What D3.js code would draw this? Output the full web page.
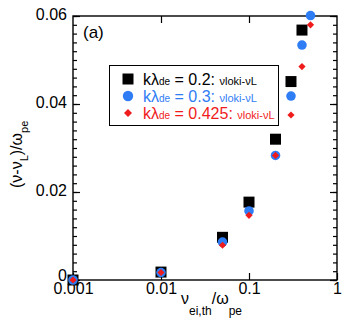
<!DOCTYPE html>
<html>
<head>
<meta charset="utf-8">
<script src="https://cdn.jsdelivr.net/npm/d3@7"></script>
<style>
  body { margin: 0; background: #fff; }
  svg { display: block; font-family: Arial, "Liberation Sans", Helvetica, sans-serif; }
</style>
</head>
<body>
<div id="chart"></div>
<script>
"use strict";

// collision frequency / omega_pe
const nuValues = [0.001, 0.01, 0.05, 0.1, 0.2, 0.3, 0.4, 0.5];

// (nu - nu_L) / omega_pe for each k lambda_de
const shift02 = [0, 0.0018, 0.0097, 0.0177, 0.0320, 0.0451, 0.0568];
const shift03 = [0, 0.0017, 0.0086, 0.0157, 0.0283, 0.0418, 0.0534, 0.0601];
const shift0425 = [0, 0.0017, 0.0079, 0.0147, 0.0283, 0.0375, 0.0485, 0.0580];

const xTicks = [0.001, 0.01, 0.1, 1];
const yTicks = [0, 0.02, 0.04, 0.06];
const legendValues = ['0.2', '0.3', '0.425'];

const width = 346, height = 325;
const plotLeft = 73, plotRight = 337, plotTop = 16, plotBottom = 280;

let svg = d3.select('#chart')
  .append('svg')
  .attr('width', width)
  .attr('height', height);

let x = d3.scaleLog().domain([0.001, 1]).range([plotLeft, plotRight]);
let y = d3.scaleLinear().domain([0, 0.06]).range([plotBottom, plotTop]);

function styleAxis(g)
{
  g.select('.domain').remove();
  g.selectAll('line').attr('stroke', '#000').attr('stroke-width', 1.2);
  g.selectAll('text')
    .attr('fill', '#000')
    .style('font-size', '16px')
    .style('font-family', 'Arial, "Liberation Sans", sans-serif');
}

// minor y ticks, both sides
let minor = d3.range(0, 0.0601, 0.002);
svg.append('g')
  .attr('transform', `translate(${plotLeft},0)`)
  .call(d3.axisLeft(y).tickValues(minor).tickSizeInner(-4).tickSizeOuter(0).tickFormat(''))
  .call(styleAxis);
svg.append('g')
  .attr('transform', `translate(${plotRight},0)`)
  .call(d3.axisRight(y).tickValues(minor).tickSizeInner(-4).tickSizeOuter(0).tickFormat(''))
  .call(styleAxis);

// major y ticks
svg.append('g')
  .attr('transform', `translate(${plotLeft},0)`)
  .call(d3.axisLeft(y).tickValues(yTicks).tickSizeInner(-7).tickSizeOuter(0).tickPadding(6)
    .tickFormat(d => d === 0 ? '0' : d3.format('.2f')(d)))
  .call(styleAxis)
  .call(g => g.selectAll('text').attr('dy', d => d === 0 ? '0.02em' : '0.2em'));
svg.append('g')
  .attr('transform', `translate(${plotRight},0)`)
  .call(d3.axisRight(y).tickValues(yTicks).tickSizeInner(-7).tickSizeOuter(0).tickFormat(''))
  .call(styleAxis);

// x ticks
svg.append('g')
  .attr('transform', `translate(0,${plotBottom})`)
  .call(d3.axisBottom(x).tickValues(xTicks).tickSizeInner(-7).tickSizeOuter(0).tickPadding(3)
    .tickFormat(d => String(d)))
  .call(styleAxis);
svg.append('g')
  .attr('transform', `translate(0,${plotTop})`)
  .call(d3.axisTop(x).tickValues(xTicks.slice(1, 3)).tickSizeInner(-7).tickSizeOuter(0).tickFormat(''))
  .call(styleAxis);

// frame
svg.append('rect')
  .attr('x', plotLeft)
  .attr('y', plotTop)
  .attr('width', plotRight - plotLeft)
  .attr('height', plotBottom - plotTop)
  .attr('fill', 'none')
  .attr('stroke', '#000')
  .attr('stroke-width', 1.4);

// panel tag
svg.append('text')
  .attr('x', 83)
  .attr('y', 38)
  .style('font-size', '17px')
  .text('(a)');

// axis titles
let yTitle = svg.append('text')
  .attr('transform', 'translate(22,188) rotate(-90)')
  .style('font-size', '16px');
yTitle.append('tspan').text('(ν-ν');
yTitle.append('tspan').attr('dy', 6).style('font-size', '11px').text('L');
yTitle.append('tspan').attr('dy', -6).text(')/ω');
yTitle.append('tspan').attr('dy', 6).style('font-size', '11px').text('pe');

let xTitle = svg.append('text')
  .attr('x', 181)
  .attr('y', 304)
  .style('font-size', '16px');
xTitle.append('tspan').text('ν');
xTitle.append('tspan').attr('dy', 11).style('font-size', '12px').text('ei,th');
xTitle.append('tspan').attr('dy', -11).text('/ω');
xTitle.append('tspan').attr('dy', 11).style('font-size', '12px').text('pe');

// markers
const blue = '#2f7df5', red = '#f01c1c';
let symSquare = d3.symbol().type(d3.symbolSquare).size(121);
let symCircle = d3.symbol().type(d3.symbolCircle).size(72);
let symDiamond = d3.symbol().type(d3.symbolSquare).size(26);

function drawSeries(values, sym, color, rot)
{
  svg.append('g')
    .selectAll('path')
    .data(values)
    .enter()
    .append('path')
    .attr('d', sym)
    .attr('fill', color)
    .attr('transform', (d, i) => `translate(${x(nuValues[i])},${y(d)}) rotate(${rot})`);
}

drawSeries(shift02, symSquare, '#000', 0);
drawSeries(shift03, symCircle, blue, 0);
drawSeries(shift0425, symDiamond, red, 45);

// legend
let legend = svg.append('g');
legend.append('rect')
  .attr('x', 109.5)
  .attr('y', 65.5)
  .attr('width', 169)
  .attr('height', 60)
  .attr('fill', '#fff')
  .attr('stroke', '#000')
  .attr('stroke-width', 1);

let legendSyms = [symSquare, d3.symbol().type(d3.symbolCircle).size(85), d3.symbol().type(d3.symbolSquare).size(32)];
let legendColors = ['#000', blue, red];
let legendRot = [0, 0, 45];

legendValues.forEach((v, i) =>
{
  let cy = 79 + i * 17;
  legend.append('path')
    .attr('d', legendSyms[i])
    .attr('fill', legendColors[i])
    .attr('transform', `translate(128,${cy}) rotate(${legendRot[i]})`);
  let t = legend.append('text')
    .attr('x', 143)
    .attr('y', cy + 6)
    .attr('fill', legendColors[i])
    .style('font-size', '16px');
  t.append('tspan').text('kλ');
  t.append('tspan').style('font-size', '10px').text('de');
  t.append('tspan').text(` = ${v}: `);
  t.append('tspan').style('font-size', '11px').text('νloki-νL');
});
</script>
</body>
</html>
